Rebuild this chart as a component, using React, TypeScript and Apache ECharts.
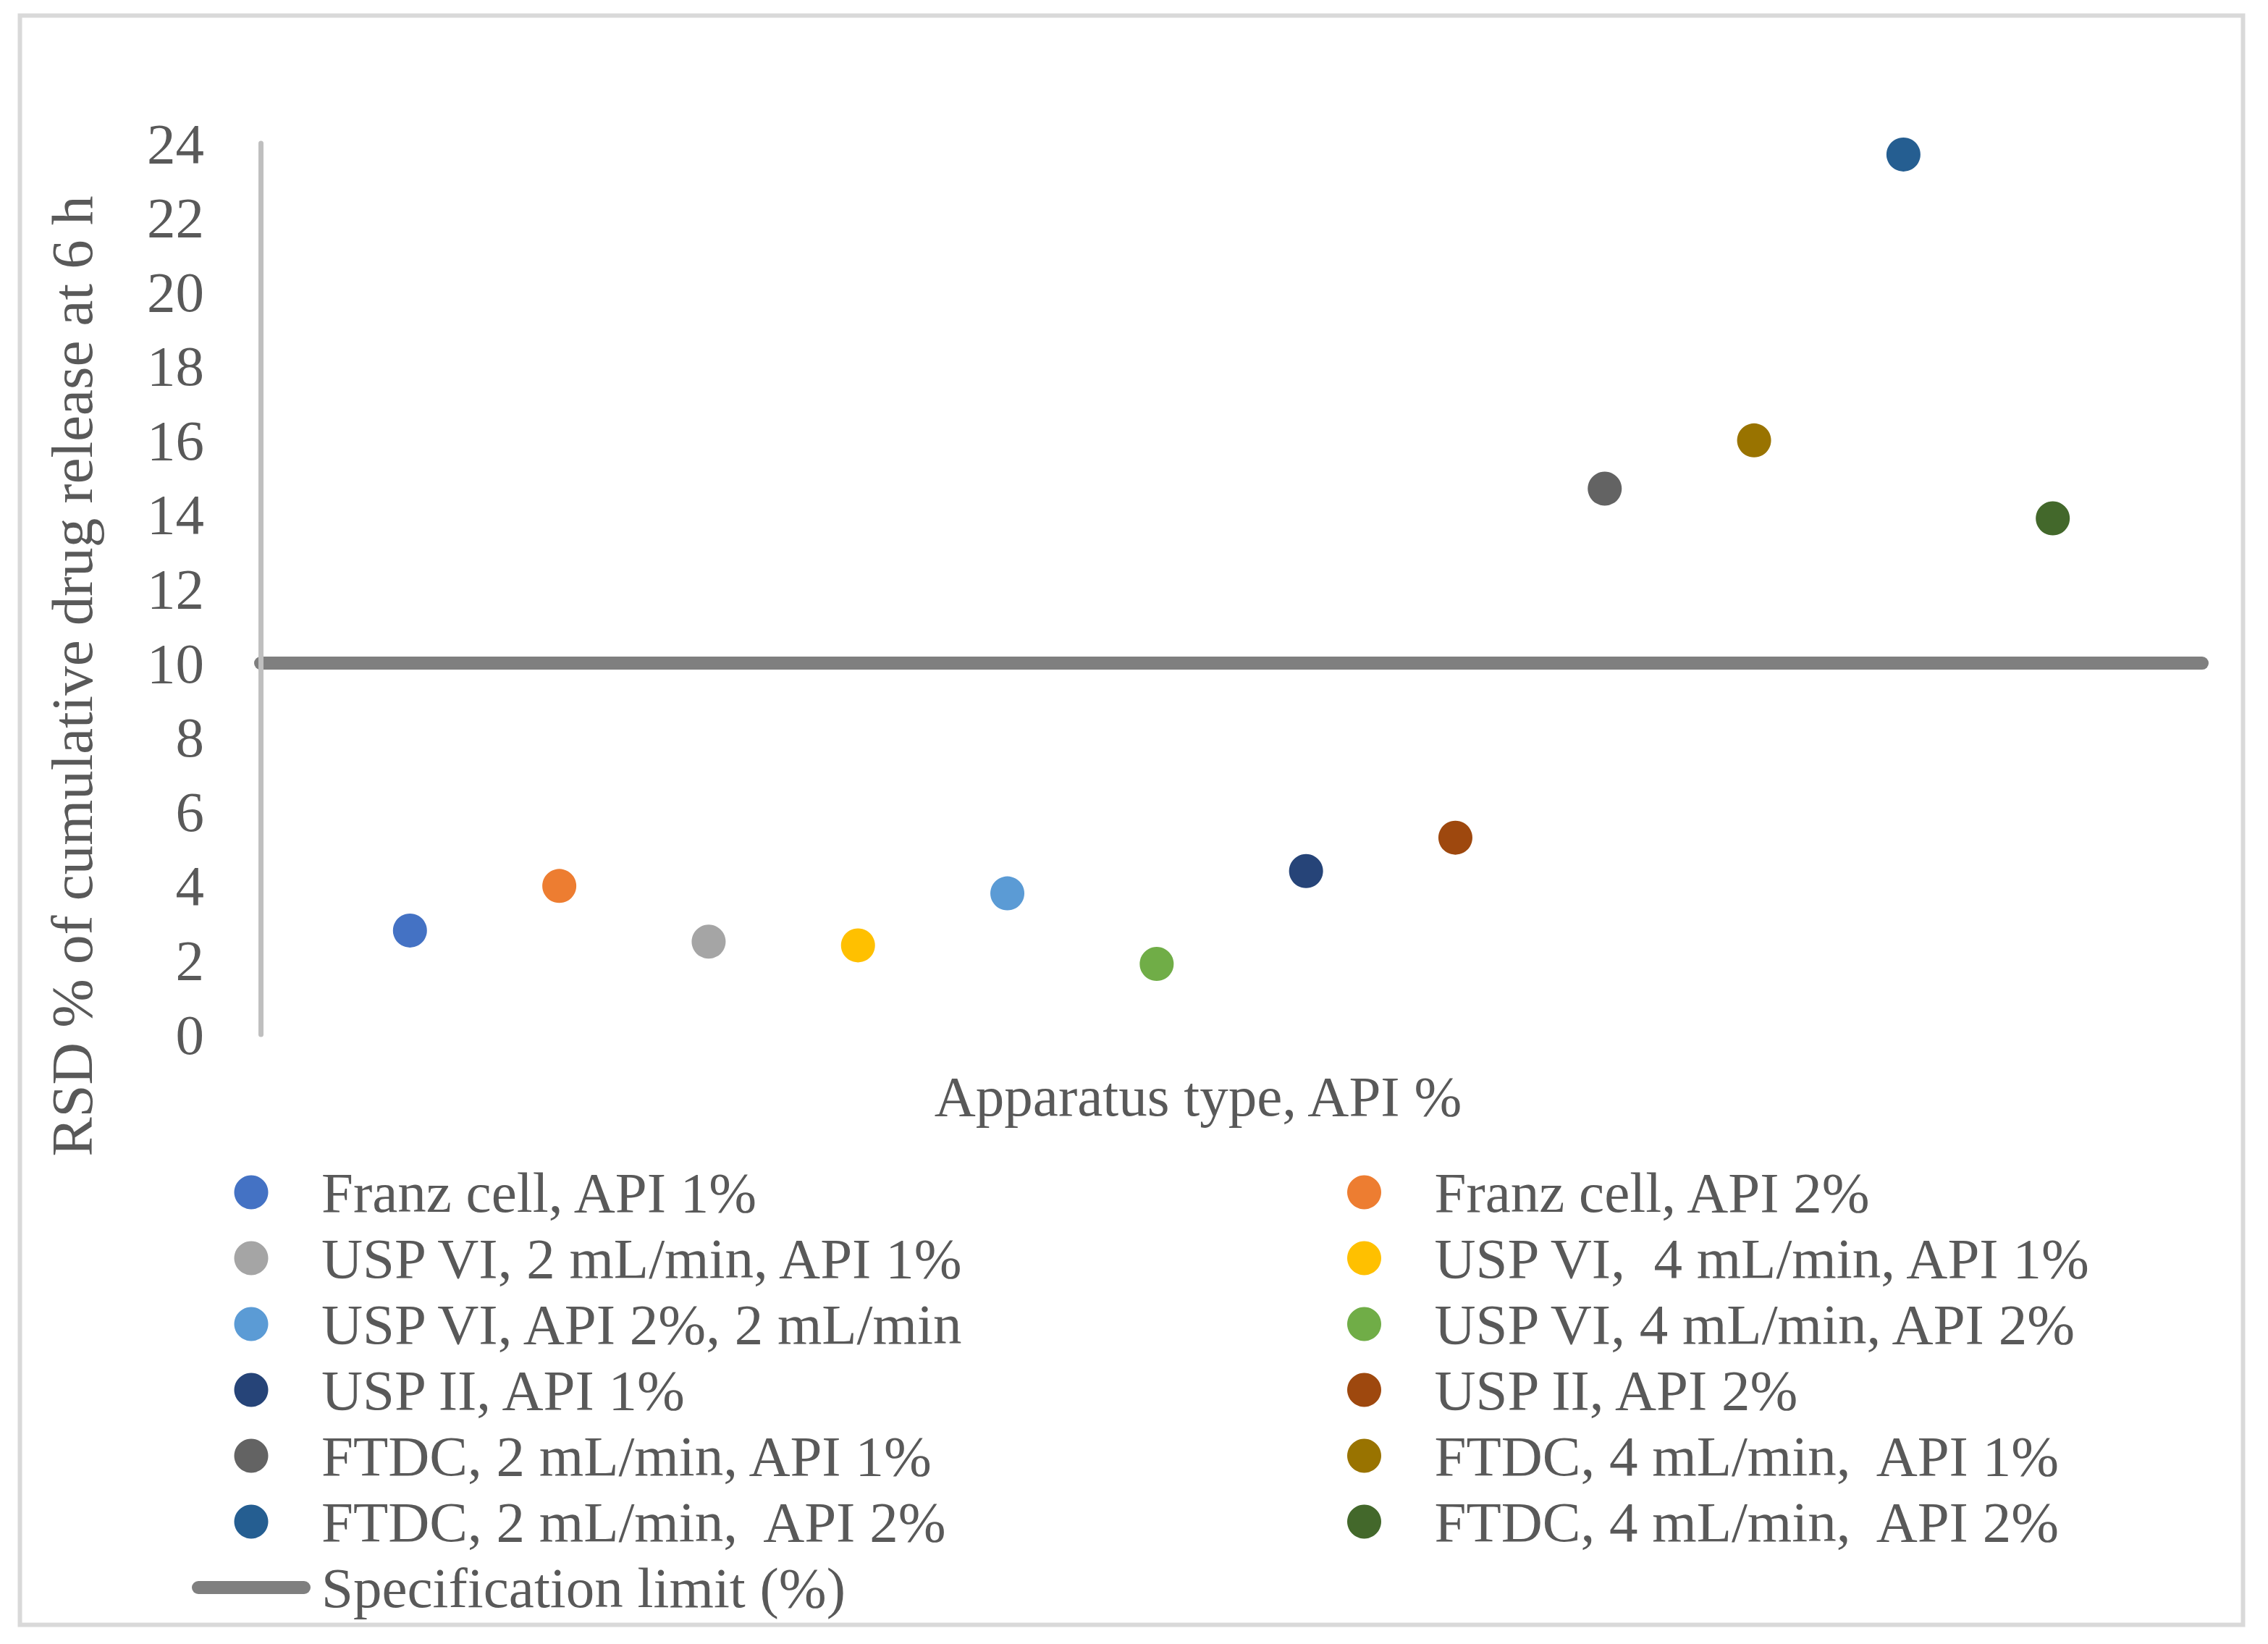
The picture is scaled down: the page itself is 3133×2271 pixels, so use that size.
import React, { useEffect, useRef } from "react";
import * as echarts from "echarts";

const seriesNames = [
  "Franz cell, API 1%",
  "Franz cell, API 2%",
  "USP VI, 2 mL/min, API 1%",
  "USP VI,  4 mL/min, API 1%",
  "USP VI, API 2%, 2 mL/min",
  "USP VI, 4 mL/min, API 2%",
  "USP II, API 1%",
  "USP II, API 2%",
  "FTDC, 2 mL/min, API 1%",
  "FTDC, 4 mL/min,  API 1%",
  "FTDC, 2 mL/min,  API 2%",
  "FTDC, 4 mL/min,  API 2%",
];
const seriesValues = [2.8, 4.0, 2.5, 2.4, 3.8, 1.9, 4.4, 5.3, 14.7, 16.0, 23.7, 13.9];
const seriesColors = [
  "#4472C4", "#ED7D31", "#A5A5A5", "#FFC000", "#5B9BD5", "#70AD47",
  "#264478", "#9E480E", "#636363", "#997300", "#255E91", "#43682B",
];
const specName = "Specification limit (%)";
const specValue = 10;
const xRange = [0, 13];
const yMin = 0;
const yMax = 24;
const yInterval = 2;
const xTitle = "Apparatus type, API %";
const yTitle = "RSD % of cumulative drug release at 6 h";

const FONT = "'Liberation Serif', 'Times New Roman', serif";
const TEXT_COLOR = "#595959";
const FS = 79;

export default function App() {
  const ref = useRef<HTMLDivElement>(null);
  useEffect(() => {
    document.body.style.margin = "0";
    const chart = echarts.init(ref.current!, null, { renderer: "svg" });

    const scatterSeries = seriesNames.map((name, i) => ({
      type: "scatter",
      name,
      data: [[i + 1, seriesValues[i]]],
      symbol: "circle",
      symbolSize: 47,
      itemStyle: { color: seriesColors[i], opacity: 1 },
      z: 3,
    }));

    const specSeries = {
      type: "line",
      name: specName,
      data: [
        [xRange[0], specValue],
        [xRange[1], specValue],
      ],
      symbol: "none",
      color: "#7F7F7F",
      lineStyle: { color: "#7F7F7F", width: 18, cap: "round" },
      itemStyle: { color: "#7F7F7F" },
      z: 2,
    };

    const legendText = {
      fontFamily: FONT,
      fontSize: FS,
      color: TEXT_COLOR,
      lineHeight: 80,
      padding: [0, 0, 0, 10],
    };

    const leftNames = seriesNames.filter((_, i) => i % 2 === 0);
    const rightNames = seriesNames.filter((_, i) => i % 2 === 1);

    const option: any = {
      animation: false,
      backgroundColor: "#ffffff",
      grid: { left: 360, top: 198, width: 2682, height: 1231, containLabel: false },
      xAxis: {
        type: "value",
        min: xRange[0],
        max: xRange[1],
        show: false,
      },
      yAxis: {
        type: "value",
        min: yMin,
        max: yMax,
        interval: yInterval,
        z: 5,
        axisLine: { show: true, lineStyle: { color: "#BFBFBF", width: 7 } },
        axisTick: { show: false },
        splitLine: { show: false },
        axisLabel: {
          fontFamily: FONT,
          fontSize: FS,
          color: TEXT_COLOR,
          margin: 78,
        },
      },
      legend: [
        {
          orient: "vertical",
          left: 260,
          top: 1602,
          itemWidth: 164,
          itemHeight: 47,
          itemGap: 11,
          symbolKeepAspect: true,
          selectedMode: false,
          textStyle: legendText,
          data: [
            ...leftNames.map((n) => ({ name: n, icon: "circle" })),
            {
              name: specName,
              icon: "path://M9,0 L155,0 A9,9 0 0 1 155,18 L9,18 A9,9 0 0 1 9,0 Z",
              itemStyle: { color: "#7F7F7F" },
            },
          ],
        },
        {
          orient: "vertical",
          left: 1856,
          top: 1602,
          itemWidth: 164,
          itemHeight: 47,
          itemGap: 11,
          symbolKeepAspect: true,
          selectedMode: false,
          textStyle: legendText,
          data: rightNames.map((n) => ({ name: n, icon: "circle" })),
        },
      ],
      graphic: [
        {
          type: "rect",
          silent: true,
          z: -10,
          shape: { x: 27.5, y: 21.5, width: 3071, height: 2223 },
          style: { fill: "none", stroke: "#D9D9D9", lineWidth: 6 },
        },
        {
          type: "text",
          x: 100,
          y: 934,
          rotation: Math.PI / 2,
          style: {
            text: yTitle,
            fill: TEXT_COLOR,
            fontFamily: FONT,
            fontSize: 81,
            align: "center",
            verticalAlign: "middle",
            textAlign: "center",
            textVerticalAlign: "middle",
          },
        },
        {
          type: "text",
          x: 1655,
          y: 1514,
          style: {
            text: xTitle,
            fill: TEXT_COLOR,
            fontFamily: FONT,
            fontSize: FS,
            align: "center",
            verticalAlign: "middle",
            textAlign: "center",
            textVerticalAlign: "middle",
          },
        },
      ],
      series: [specSeries, ...scatterSeries],
    };

    chart.setOption(option);
    return () => chart.dispose();
  }, []);
  return <div ref={ref} style={{ width: 3133, height: 2271 }} />;
}
